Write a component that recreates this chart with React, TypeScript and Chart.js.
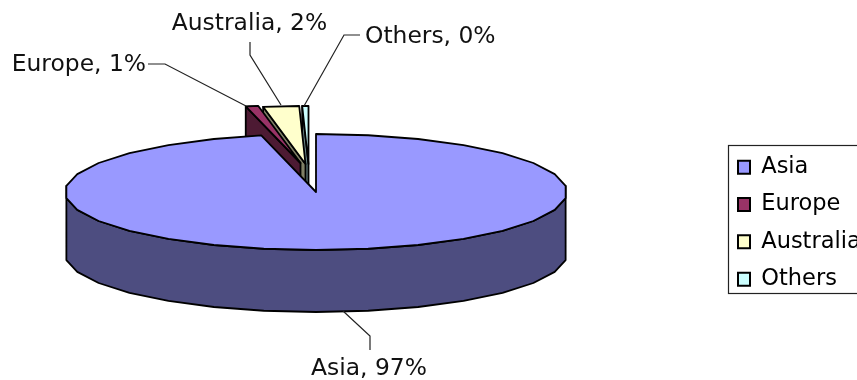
import React, { useEffect, useRef } from "react";
import { Chart, registerables } from "chart.js";

Chart.register(...registerables);

const categories = ["Asia", "Europe", "Australia", "Others"];
const shares = [96.5, 0.8, 2.3, 0.4];

const topColors = ["#9999FF", "#993366", "#FFFFCC", "#CCFFFF"];
const wallColors = ["#4D4D80", "#4D1A33", "#808066", "#668080"];

const WIDTH = 857;
const HEIGHT = 380;
const PIE_X = 316;
const PIE_Y = 192;
const PIE_RADIUS = 251;
const TILT = 58 / 251;
const DEPTH = 62;
const FACET = 12;
const FONT = "'DejaVu Sans'";
const FONT_SIZE = 22.5;
const CAPTION_SIZE = 23.4;
const LEGEND_GAP = 14.8;

// Screen shift of each slice pulled out of the pie
const explodeX = [0, -15.5, -10.5, -7.5];
const explodeY = [0, -29, -28, -28];

// Leader lines and anchors of the slice captions
const captionAt = [
  { x: 369, y: 369, align: "center" },
  { x: 146, y: 65, align: "right" },
  { x: 249.5, y: 23.5, align: "center" },
  { x: 365, y: 36.5, align: "left" },
];
const leaders = [
  [[343, 311], [370, 336], [370, 350]],
  [[148, 64], [165, 64], [246, 106]],
  [[250, 42], [250, 55], [281, 105]],
  [[360, 35], [344, 35], [304, 106]],
];

const rad = (d: number) => (d * Math.PI) / 180;

// Rim of the tilted disc as short facets between two angles (radians)
function rimPoints(a0: number, a1: number, ox: number, oy: number, r: number) {
  const pts: [number, number][] = [];
  const at = (a: number): [number, number] => [
    PIE_X + ox + r * Math.cos(a),
    PIE_Y + oy + r * TILT * Math.sin(a),
  ];
  pts.push(at(a0));
  const d0 = (a0 * 180) / Math.PI;
  const d1 = (a1 * 180) / Math.PI;
  let k = Math.ceil((d0 - 6) / FACET);
  while (k * FACET + 6 < d1) {
    const d = k * FACET + 6;
    if (d > d0) pts.push(at(rad(d)));
    k++;
  }
  pts.push(at(a1));
  return pts;
}

function outline(ctx: CanvasRenderingContext2D, pts: [number, number][], fill: string) {
  ctx.beginPath();
  pts.forEach(([x, y], i) => (i ? ctx.lineTo(x, y) : ctx.moveTo(x, y)));
  ctx.closePath();
  ctx.fillStyle = fill;
  ctx.fill();
  ctx.stroke();
}

const pie3d = {
  id: "pie3d",
  beforeDraw(chart: any) {
    const { ctx } = chart;
    ctx.save();
    ctx.fillStyle = "#fff";
    ctx.fillRect(0, 0, WIDTH, HEIGHT);
    ctx.strokeStyle = "#222";
    ctx.lineWidth = 1.2;
    ctx.strokeRect(728.5, 145.5, 200, 148);
    ctx.restore();
  },
  afterLayout(chart: any) {
    // The legend sits in a fixed box whose right side runs off the canvas
    const legend = chart.legend;
    legend.left = 738 - LEGEND_GAP;
    legend.top = 156 - LEGEND_GAP;
    legend.bottom = 600;
  },
  beforeDatasetsDraw(chart: any) {
    const { ctx } = chart;
    const arcs = chart.getDatasetMeta(0).data;
    ctx.save();
    ctx.lineJoin = "round";
    ctx.strokeStyle = "#000";
    ctx.lineWidth = 1.8;

    // Pulled-out slices go first, the big slice then covers their walls
    for (let i = arcs.length - 1; i >= 1; i--) {
      const { startAngle, endAngle, outerRadius } = arcs[i];
      const ox = explodeX[i];
      const oy = explodeY[i];
      const tip: [number, number] = [PIE_X + ox, PIE_Y + oy];
      const rim = rimPoints(startAngle, endAngle, ox, oy, outerRadius);
      outline(
        ctx,
        [rim[0], tip, [tip[0], tip[1] + DEPTH], [rim[0][0], rim[0][1] + DEPTH]],
        wallColors[i]
      );
      outline(ctx, [tip, ...rim], topColors[i]);
    }

    const { startAngle, endAngle, outerRadius } = arcs[0];
    const front = rimPoints(rad(-6), rad(186), 0, 0, outerRadius);
    const lower = front.map(([x, y]) => [x, y + DEPTH] as [number, number]).reverse();
    outline(ctx, [...front, ...lower], wallColors[0]);
    outline(
      ctx,
      [[PIE_X, PIE_Y], ...rimPoints(startAngle, endAngle, 0, 0, outerRadius)],
      topColors[0]
    );
    ctx.restore();
    return false;
  },
  afterDraw(chart: any) {
    const { ctx } = chart;
    const values: number[] = chart.data.datasets[0].data;
    const total = values.reduce((a, b) => a + b, 0);
    ctx.save();
    ctx.strokeStyle = "#222";
    ctx.lineWidth = 1.2;
    leaders.forEach((line) => {
      ctx.beginPath();
      line.forEach(([x, y], i) => (i ? ctx.lineTo(x, y) : ctx.moveTo(x, y)));
      ctx.stroke();
    });
    ctx.fillStyle = "#111";
    ctx.font = `${CAPTION_SIZE}px ${FONT}`;
    ctx.textBaseline = "middle";
    chart.data.labels.forEach((label: string, i: number) => {
      const spot = captionAt[i];
      ctx.textAlign = spot.align;
      const pct = Math.round((values[i] / total) * 100);
      ctx.fillText(`${label}, ${pct}%`, spot.x, spot.y);
    });
    ctx.restore();
  },
};

export default function App() {
  const ref = useRef<HTMLCanvasElement>(null);
  useEffect(() => {
    const chart = new Chart(ref.current!, {
      type: "pie",
      data: {
        labels: categories,
        datasets: [
          {
            data: shares,
            backgroundColor: topColors,
            borderColor: "#000",
            borderWidth: 0,
            radius: PIE_RADIUS,
          },
        ],
      },
      options: {
        animation: false,
        responsive: false,
        plugins: {
          tooltip: { enabled: false },
          legend: {
            position: "right",
            align: "start",
            labels: {
              boxWidth: 12,
              boxHeight: 13,
              padding: LEGEND_GAP,
              color: "#111",
              font: { family: FONT, size: FONT_SIZE },
              generateLabels: (c: any) =>
                c.data.labels.map((text: string, i: number) => ({
                  text,
                  fillStyle: topColors[i],
                  strokeStyle: "#000",
                  lineWidth: 2,
                  index: i,
                })),
            },
          },
        },
      },
      plugins: [pie3d],
    } as any);
    return () => chart.destroy();
  }, []);
  return (
    <div style={{ position: "fixed", left: 0, top: 0, width: WIDTH, height: HEIGHT }}>
      <canvas ref={ref} width={WIDTH} height={HEIGHT} style={{ display: "block" }} />
    </div>
  );
}
